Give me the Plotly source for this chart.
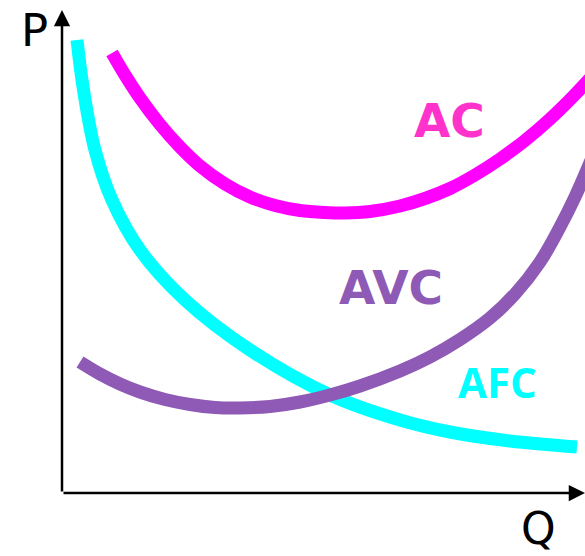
import plotly.graph_objects as go

# Quantity (Q) and price (P) readings for each cost curve
afc_q = [0.30, 0.43, 0.66, 1.00, 1.56, 2.46, 3.76, 5.36, 6.76, 7.76, 8.96, 10.30]
afc_p = [9.06, 8.06, 6.86, 5.86, 4.86, 3.86, 2.86, 1.96, 1.46, 1.22, 1.04, 0.92]

ac_q = [1.00, 1.26, 1.56, 1.96, 2.36, 2.76, 3.26, 3.76, 4.26, 4.76, 5.26, 5.66,
        6.16, 6.76, 7.26, 7.76, 8.26, 8.76, 9.26, 9.76, 10.26, 10.76]
ac_p = [8.80, 8.36, 7.90, 7.37, 6.92, 6.54, 6.18, 5.92, 5.75, 5.65, 5.61, 5.60,
        5.63, 5.74, 5.89, 6.09, 6.36, 6.68, 7.05, 7.48, 7.97, 8.51]

avc_q = [0.36, 0.76, 1.16, 1.56, 2.06, 2.56, 3.06, 3.56, 4.16, 4.76, 5.36, 5.96,
         6.76, 7.36, 7.96, 8.56, 9.06, 9.56, 9.96, 10.26, 10.60]
avc_p = [2.62, 2.38, 2.18, 2.02, 1.87, 1.77, 1.71, 1.70, 1.73, 1.82, 1.96, 2.14,
         2.44, 2.72, 3.07, 3.50, 3.98, 4.62, 5.32, 5.92, 6.70]

labels = ["AC", "AVC", "AFC"]
label_q = [7.74, 6.58, 8.70]
label_p = [7.46, 4.11, 2.24]

axis_titles = ["P", "Q"]

fig = go.Figure()
fig.add_trace(go.Scatter(x=afc_q, y=afc_p, mode="lines",
                         line=dict(color="#00FFFF", width=13, shape="spline", smoothing=1.0)))
fig.add_trace(go.Scatter(x=avc_q, y=avc_p, mode="lines",
                         line=dict(color="#8E5AB5", width=13, shape="spline", smoothing=1.0)))
fig.add_trace(go.Scatter(x=ac_q, y=ac_p, mode="lines",
                         line=dict(color="#FF00FF", width=13, shape="spline", smoothing=1.0)))

# Axes with arrowheads
fig.add_annotation(x=0, y=9.66, ax=0, ay=0, xref="x", yref="y", axref="x", ayref="y",
                   text="", showarrow=True, arrowhead=2, arrowsize=1.3, arrowwidth=2.5,
                   arrowcolor="black", standoff=0)
fig.add_annotation(x=10.46, y=0, ax=0, ay=0, xref="x", yref="y", axref="x", ayref="y",
                   text="", showarrow=True, arrowhead=2, arrowsize=1.3, arrowwidth=2.5,
                   arrowcolor="black", standoff=0)

fig.add_annotation(x=-0.56, y=9.26, text=axis_titles[0], showarrow=False,
                   font=dict(family="DejaVu Sans", size=45, color="black"),
                   xanchor="center", yanchor="middle")
fig.add_annotation(x=9.52, y=-0.70, text=axis_titles[1], showarrow=False,
                   font=dict(family="DejaVu Sans", size=44, color="black"),
                   xanchor="center", yanchor="middle")

label_colors = ["#FF33CC", "#8E5AB5", "#00FFFF"]
label_fonts = ["DejaVu Sans", "DejaVu Sans", "Open Sans"]
label_sizes = [47, 47, 42]
for t, q, p, c, f, s in zip(labels, label_q, label_p, label_colors, label_fonts, label_sizes):
    fig.add_annotation(x=q, y=p, text="<b>%s</b>" % t, showarrow=False,
                       font=dict(family=f, size=s, color=c),
                       xanchor="center", yanchor="middle")

fig.update_layout(
    width=585, height=556,
    margin=dict(l=0, r=0, t=0, b=0),
    paper_bgcolor="white", plot_bgcolor="white",
    showlegend=False,
    xaxis=dict(range=[-1.24, 10.46], visible=False, fixedrange=True),
    yaxis=dict(range=[-1.26, 9.86], visible=False, fixedrange=True),
)

fig.write_html("out.html", config={"displayModeBar": False, "staticPlot": True},
               post_script="document.body.style.margin='0';document.body.style.overflow='hidden';")
